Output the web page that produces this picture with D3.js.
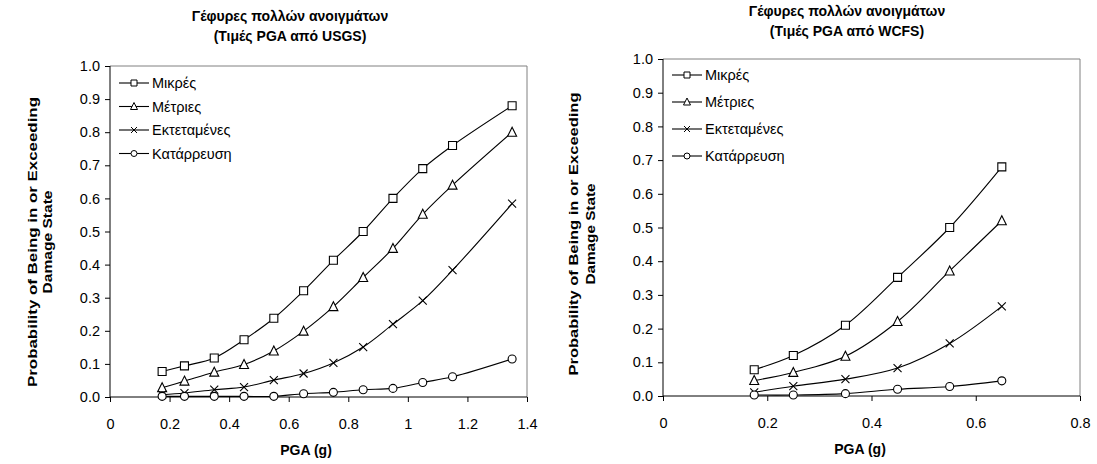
<!DOCTYPE html>
<html>
<head>
<meta charset="utf-8">
<script src="https://cdn.jsdelivr.net/npm/d3@7"></script>
<style>
  html, body { margin: 0; padding: 0; background: #fff; }
  svg { display: block; font-family: Arial, "Liberation Sans", sans-serif; }
</style>
</head>
<body>
<svg id="chart" width="1097" height="464"></svg>
<script>
// Damage state names (legend)
const seriesNames = ["Μικρές", "Μέτριες", "Εκτεταμένες", "Κατάρρευση"];
const seriesSymbols = ["square", "triangle", "cross", "circle"];

// Fragility curves, PGA values from USGS
const pgaUSGS = [0.175, 0.25, 0.35, 0.45, 0.55, 0.65, 0.75, 0.85, 0.95, 1.05, 1.15, 1.35];
const usgsMinor     = [0.077, 0.094, 0.118, 0.173, 0.238, 0.321, 0.413, 0.500, 0.600, 0.690, 0.760, 0.880];
const usgsModerate  = [0.028, 0.048, 0.075, 0.098, 0.139, 0.199, 0.273, 0.361, 0.449, 0.552, 0.640, 0.800];
const usgsExtensive = [0.007, 0.012, 0.022, 0.030, 0.051, 0.071, 0.103, 0.151, 0.220, 0.291, 0.383, 0.584];
const usgsCollapse  = [0.002, 0.002, 0.002, 0.002, 0.002, 0.010, 0.014, 0.022, 0.026, 0.044, 0.061, 0.115];

// Fragility curves, PGA values from WCFS
const pgaWCFS = [0.175, 0.25, 0.35, 0.45, 0.55, 0.65];
const wcfsMinor     = [0.078, 0.120, 0.210, 0.352, 0.500, 0.680];
const wcfsModerate  = [0.046, 0.070, 0.118, 0.221, 0.371, 0.520];
const wcfsExtensive = [0.011, 0.029, 0.050, 0.083, 0.156, 0.266];
const wcfsCollapse  = [0.003, 0.003, 0.007, 0.020, 0.028, 0.045];

// Axis ticks
const yTicks = [0, 0.1, 0.2, 0.3, 0.4, 0.5, 0.6, 0.7, 0.8, 0.9, 1.0];
const xTicksUSGS = [0, 0.2, 0.4, 0.6, 0.8, 1, 1.2, 1.4];
const xTicksWCFS = [0, 0.2, 0.4, 0.6, 0.8];

const titleLine1 = "Γέφυρες πολλών ανοιγμάτων";
const yTitle = ["Probability of Being in or Exceeding", "Damage State"];
const xTitle = "PGA (g)";

const FONT = 'Arial, "Liberation Sans", sans-serif';
const svg = d3.select("#chart");

function markerPath(type, s) {
  const h = s / 2;
  if (type === "square") return `M${-h},${-h}H${h}V${h}H${-h}Z`;
  if (type === "triangle") return `M0,${-h - 1}L${h + 0.5},${h}L${-h - 0.5},${h}Z`;
  if (type === "cross") return `M${-h},${-h}L${h},${h}M${-h},${h}L${h},${-h}`;
  return d3.arc()({ innerRadius: 0, outerRadius: h, startAngle: 0, endAngle: 2 * Math.PI });
}

function drawPanel(cfg) {
  const { left, right, top, bottom } = cfg.box;
  const g = svg.append("g");
  const x = d3.scaleLinear().domain([0, cfg.xMax]).range([left, right]);
  const y = d3.scaleLinear().domain([0, 1]).range([bottom, top]);

  // frame (top and right edges)
  g.append("path")
    .attr("d", `M${left},${top}H${right}V${bottom}`)
    .attr("fill", "none").attr("stroke", "#808080").attr("stroke-width", 1);

  // axes
  const yAxis = d3.axisLeft(y).tickValues(yTicks).tickFormat(d3.format(".1f")).tickSize(5).tickPadding(5);
  const gy = g.append("g").attr("transform", `translate(${left},0)`).call(yAxis);
  const xAxis = d3.axisBottom(x).tickValues(cfg.xTicks).tickFormat(d => String(+d.toFixed(1))).tickSize(5).tickPadding(17);
  const gx = g.append("g").attr("transform", `translate(0,${bottom})`).call(xAxis);
  [gx, gy].forEach(a => {
    a.select(".domain").attr("stroke", "#000");
    a.selectAll(".tick line").attr("stroke", "#000");
    a.selectAll(".tick text").attr("fill", "#000").attr("font-size", 14.5).attr("font-family", FONT);
  });
  gy.select(".domain").attr("d", `M0,${bottom}V${top}`);
  gx.select(".domain").attr("d", `M${left},0H${right}`);

  // chart title
  const t = g.append("text").attr("text-anchor", "middle").attr("font-weight", "bold")
    .attr("font-size", 14).attr("fill", "#000");
  t.append("tspan").attr("x", cfg.titleX).attr("y", cfg.titleY).text(titleLine1);
  t.append("tspan").attr("x", cfg.titleX).attr("y", cfg.titleY + 20).text(cfg.subtitle);

  // x-axis title
  g.append("text").attr("x", cfg.xTitleX).attr("y", bottom + 58)
    .attr("text-anchor", "middle").attr("font-weight", "bold").attr("font-size", 14)
    .attr("fill", "#000").text(xTitle);

  // y-axis title (two rotated lines)
  const yt = g.append("g")
    .attr("transform", `translate(${cfg.yTitleX},${cfg.yTitleY}) rotate(-90)`);
  yTitle.forEach((s, i) => {
    yt.append("text").attr("x", 0).attr("y", i * cfg.yTitleGap)
      .attr("text-anchor", "middle").attr("font-weight", "bold").attr("font-size", 13.5)
      .attr("fill", "#000")
      .attr("textLength", cfg.yTitleLen[i]).attr("lengthAdjust", "spacingAndGlyphs")
      .text(s);
  });

  // series lines and markers
  const line = d3.line().x(d => x(d[0])).y(d => y(d[1])).curve(d3.curveCatmullRom.alpha(0.5));
  cfg.series.forEach((vals, i) => {
    const pts = cfg.pga.map((p, k) => [p, vals[k]]);
    g.append("path").attr("d", line(pts)).attr("fill", "none")
      .attr("stroke", "#000").attr("stroke-width", 1.1);
    g.selectAll(null).data(pts).enter().append("path")
      .attr("transform", d => `translate(${x(d[0])},${y(d[1])})`)
      .attr("d", markerPath(seriesSymbols[i], 8))
      .attr("fill", "#fff").attr("stroke", "#000").attr("stroke-width", 1.1);
  });

  // legend
  const lg = g.append("g");
  seriesNames.forEach((name, i) => {
    const ly = cfg.legend.y0 + i * cfg.legend.dy;
    const lx = cfg.legend.x;
    lg.append("line").attr("x1", lx).attr("x2", lx + 30).attr("y1", ly).attr("y2", ly)
      .attr("stroke", "#000").attr("stroke-width", 1.1);
    lg.append("path").attr("transform", `translate(${lx + 15},${ly})`)
      .attr("d", markerPath(seriesSymbols[i], 6))
      .attr("fill", "#fff").attr("stroke", "#000").attr("stroke-width", 1);
    lg.append("text").attr("x", lx + 33).attr("y", ly).attr("dy", "0.35em")
      .attr("font-size", 14.5).attr("fill", "#000").text(name);
  });
}

drawPanel({
  box: { left: 110, right: 527, top: 66, bottom: 397 },
  xMax: 1.4, xTicks: xTicksUSGS, pga: pgaUSGS,
  series: [usgsMinor, usgsModerate, usgsExtensive, usgsCollapse],
  subtitle: "(Τιμές PGA από USGS)", titleX: 290, titleY: 21,
  xTitleX: 306, yTitleX: 37, yTitleY: 242, yTitleGap: 15, yTitleLen: [290, 103],
  legend: { x: 119, y0: 83, dy: 23.5 }
});

drawPanel({
  box: { left: 663, right: 1080, top: 59, bottom: 396 },
  xMax: 0.8, xTicks: xTicksWCFS, pga: pgaWCFS,
  series: [wcfsMinor, wcfsModerate, wcfsExtensive, wcfsCollapse],
  subtitle: "(Τιμές PGA από WCFS)", titleX: 847, titleY: 16,
  xTitleX: 860, yTitleX: 578, yTitleY: 234, yTitleGap: 17, yTitleLen: [283, 101],
  legend: { x: 672, y0: 75, dy: 27 }
});
</script>
</body>
</html>
